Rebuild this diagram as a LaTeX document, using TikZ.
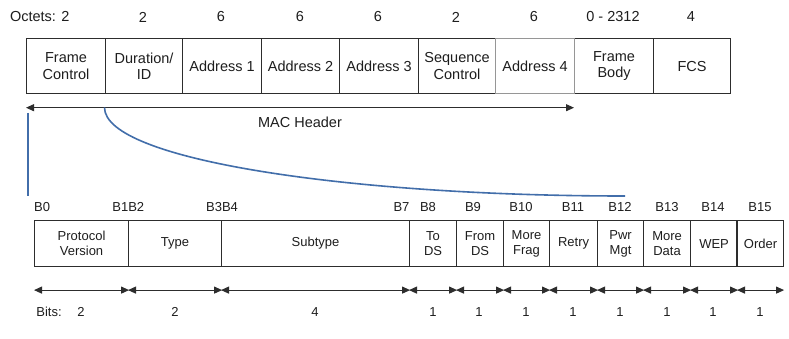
\documentclass[tikz,border=0pt]{standalone}
\usepackage{fontspec}
\setmainfont{Liberation Sans}
\usetikzlibrary{arrows.meta}
\definecolor{linec}{RGB}{45,45,45}
\definecolor{lightbox}{RGB}{150,150,150}
\definecolor{curveblue}{RGB}{66,110,170}
\definecolor{txt}{RGB}{30,30,30}
\tikzset{
  topbox/.style={draw=linec, line width=1.1pt, minimum height=55pt, anchor=north west,
    inner sep=0pt, align=center, text=txt, font=\fontsize{14.5}{16.5}\selectfont},
  botbox/.style={draw=linec, line width=1.1pt, minimum height=46pt, anchor=north west,
    inner sep=0pt, align=center, text=txt, font=\fontsize{13}{15}\selectfont},
  toplbl/.style={text=txt, inner sep=0pt, font=\fontsize{14.5}{16.5}\selectfont},
  botlbl/.style={text=txt, inner sep=0pt, font=\fontsize{13}{15}\selectfont},
  arr/.style={line width=1pt, draw=linec, {Triangle[length=8pt,width=7pt]}-{Triangle[length=8pt,width=7pt]}},
  blueline/.style={draw=curveblue, line width=1.6pt}
}
\begin{document}
\begin{tikzpicture}[x=1pt,y=-1pt]
\useasboundingbox[fill=white] (0,0) rectangle (789,339);

% top row
\node[topbox, minimum width=79pt] (f1) at (26,38) {Frame\\Control};
\node[topbox, minimum width=77pt] (f2) at (105,38) {Duration/\\ID};
\node[topbox, minimum width=79pt] (f3) at (182,38) {Address 1};
\node[topbox, minimum width=78pt] (f4) at (261,38) {Address 2};
\node[topbox, minimum width=79pt] (f5) at (339,38) {Address 3};
\node[topbox, minimum width=77pt] (f6) at (418,38) {Sequence\\Control};
\node[topbox, minimum width=79pt] (f8) at (574,38) {Frame\\Body};
\node[topbox, minimum width=77pt] (f9) at (653,38) {FCS};
\node[topbox, minimum width=79pt, draw=lightbox] (f7) at (495,38) {Address 4};

% octets labels
\node[toplbl] (o1) at (39.7,17) {Octets: 2};
\node[toplbl] (o2) at (143,17) {2};
\node[toplbl] (o3) at (221,17) {6};
\node[toplbl] (o4) at (300,17) {6};
\node[toplbl] (o5) at (378,17) {6};
\node[toplbl] (o6) at (456,17) {2};
\node[toplbl] (o7) at (534,17) {6};
\node[toplbl] (o8) at (613,17) {0 - 2312};
\node[toplbl] (o9) at (691,17) {4};

% MAC header
\coordinate (macL) at (26,107.7);
\coordinate (macR) at (574,107.7);
\draw[arr] (macL) -- (macR);
\node[toplbl] (mac) at (300,122) {MAC Header};

% blue connectors
\coordinate (vtop) at (28,113);
\coordinate (vbot) at (28,196);
\draw[blueline] (vtop) -- (vbot);
\coordinate (cstart) at (104.5,107.5);
\coordinate (cend) at (625,196);
\draw[blueline] (cstart) .. controls (104.5,160) and (350,196) .. (cend);

% bottom row
\node[botbox, minimum width=94pt] (b1) at (34,220) {Protocol\\Version};
\node[botbox, minimum width=93pt] (b2) at (128,220) {Type};
\node[botbox, minimum width=188pt] (b3) at (221,220) {Subtype};
\node[botbox, minimum width=47pt] (b4) at (409,220) {To\\DS};
\node[botbox, minimum width=47pt] (b5) at (456,220) {From\\DS};
\node[botbox, minimum width=46pt] (b6) at (503,220) {More\\Frag};
\node[botbox, minimum width=48pt] (b7) at (549,220) {Retry};
\node[botbox, minimum width=46pt] (b8) at (597,220) {Pwr\\Mgt};
\node[botbox, minimum width=47pt] (b9) at (643,220) {More\\Data};
\node[botbox, minimum width=47pt] (b10) at (690,220) {WEP};
\node[botbox, minimum width=46pt] (b11) at (737,220) {Order};
\draw[draw=linec, line width=2pt] (b11.north west) -- (b11.south west);

% bit position labels
\node[botlbl, anchor=west] (l0) at (34,207) {B0};
\node[botlbl] (l1) at (128.3,207) {B1B2};
\node[botlbl] (l2) at (222,207) {B3B4};
\node[botlbl] (l3) at (401.5,207) {B7};
\node[botlbl] (l4) at (428,207) {B8};
\node[botlbl] (l5) at (473,207) {B9};
\node[botlbl] (l6) at (521,207) {B10};
\node[botlbl] (l7) at (573,207) {B11};
\node[botlbl] (l8) at (620,207) {B12};
\node[botlbl] (l9) at (667,207) {B13};
\node[botlbl] (l10) at (713,207) {B14};
\node[botlbl] (l11) at (760,207) {B15};

% bit width arrows
\foreach \b in {b1,b2,b3,b4,b5,b6,b7,b8,b9,b10,b11}{
  \draw[arr] ([yshift=-23pt]\b.south west) -- ([yshift=-23pt]\b.south east);
}

% bits labels
\node[botlbl] (bits) at (49,312) {Bits:};
\node[botlbl] (n1) at (81,312) {2};
\node[botlbl] (n2) at (175,312) {2};
\node[botlbl] (n3) at (315,312) {4};
\node[botlbl] (n4) at (433,312) {1};
\node[botlbl] (n5) at (479,312) {1};
\node[botlbl] (n6) at (526,312) {1};
\node[botlbl] (n7) at (573,312) {1};
\node[botlbl] (n8) at (620,312) {1};
\node[botlbl] (n9) at (667,312) {1};
\node[botlbl] (n10) at (713,312) {1};
\node[botlbl] (n11) at (760,312) {1};
\end{tikzpicture}
\end{document}
